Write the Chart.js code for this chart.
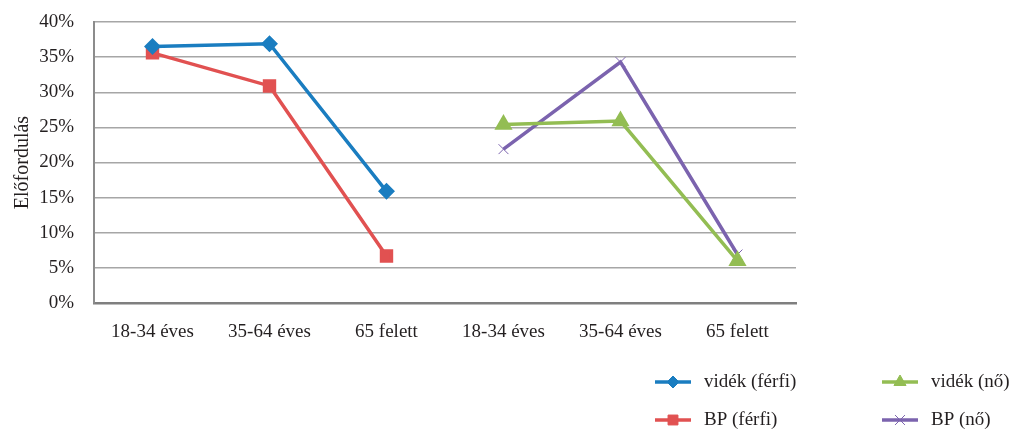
<!DOCTYPE html>
<html>
<head>
<meta charset="utf-8">
<style>
  html, body { margin: 0; padding: 0; background: #fff; }
  #wrap { width: 1019px; height: 430px; position: relative; }
</style>
<script src="https://cdn.jsdelivr.net/npm/chart.js@4"></script>
</head>
<body>
<div id="wrap"><canvas id="c" width="1019" height="430"></canvas></div>
<script>
// Age groups: first three for men, last three for women
const categories = ['18-34 éves', '35-64 éves', '65 felett', '18-34 éves', '35-64 éves', '65 felett'];

// Prevalence in percent
const videkFerfi = [36.5, 36.9, 15.9, null, null, null];
const bpFerfi    = [35.6, 30.9, 6.7, null, null, null];
const videkNo    = [null, null, null, 25.4, 25.9, 6.0];
const bpNo       = [null, null, null, 21.9, 34.3, 6.9];

const yTicks = [0, 5, 10, 15, 20, 25, 30, 35, 40];

const FONT = '"Liberation Serif", "DejaVu Serif", serif';
const TEXT = '#231f20';

// Two-column legend below the plot
const gridLegend = {
  id: 'gridLegend',
  afterDraw(chart) {
    const ctx = chart.ctx;
    const slots = [
      { x: 655, y: 382 }, { x: 882, y: 382 },
      { x: 655, y: 420 }, { x: 882, y: 420 }
    ];
    const order = [0, 2, 1, 3];
    ctx.save();
    order.forEach((di, i) => {
      const ds = chart.data.datasets[di];
      const s = slots[i];
      ctx.strokeStyle = ds.borderColor;
      ctx.lineWidth = 3.5;
      ctx.beginPath();
      ctx.moveTo(s.x, s.y);
      ctx.lineTo(s.x + 36, s.y);
      ctx.stroke();
      ctx.fillStyle = ds.pointBackgroundColor;
      ctx.strokeStyle = ds.pointBorderColor;
      ctx.lineWidth = ds.pointBorderWidth || 1;
      Chart.helpers.drawPoint(ctx, {
        pointStyle: ds.pointStyle,
        radius: ds.pointRadius,
        borderWidth: ds.pointBorderWidth || 1,
        rotation: 0
      }, s.x + 18, s.y);
      ctx.fillStyle = TEXT;
      ctx.font = '19px ' + FONT;
      ctx.textBaseline = 'middle';
      ctx.textAlign = 'left';
      ctx.fillText(ds.label, s.x + 49, s.y);
    });
    ctx.restore();
  }
};

new Chart(document.getElementById('c'), {
  type: 'line',
  data: {
    labels: categories,
    datasets: [
      {
        label: 'vidék (férfi)',
        data: videkFerfi,
        borderColor: '#1a7dc0',
        backgroundColor: '#1a7dc0',
        pointBackgroundColor: '#1a7dc0',
        pointBorderColor: '#1a7dc0',
        pointStyle: 'rectRot',
        pointRadius: 6,
        borderWidth: 3.5
      },
      {
        label: 'BP (férfi)',
        data: bpFerfi,
        borderColor: '#e15151',
        backgroundColor: '#e15151',
        pointBackgroundColor: '#e15151',
        pointBorderColor: '#e15151',
        pointStyle: 'rect',
        pointRadius: 7,
        borderWidth: 3.5
      },
      {
        label: 'vidék (nő)',
        data: videkNo,
        borderColor: '#93bd53',
        backgroundColor: '#93bd53',
        pointBackgroundColor: '#93bd53',
        pointBorderColor: '#93bd53',
        pointStyle: 'triangle',
        pointRadius: 7,
        borderWidth: 3.5
      },
      {
        label: 'BP (nő)',
        data: bpNo,
        borderColor: '#7b63ae',
        backgroundColor: '#7b63ae',
        pointBackgroundColor: '#7b63ae',
        pointBorderColor: '#7b63ae',
        pointStyle: 'crossRot',
        pointRadius: 7,
        pointBorderWidth: 1,
        borderWidth: 3.5
      }
    ]
  },
  options: {
    responsive: false,
    animation: false,
    layout: { padding: { top: 22, right: 223, bottom: 0, left: 0 } },
    plugins: {
      legend: { display: false },
      tooltip: { enabled: false }
    },
    scales: {
      x: {
        offset: true,
        grid: { display: false, drawTicks: false },
        border: { display: true, color: '#7f7f7f', width: 2.5 },
        ticks: { color: TEXT, font: { family: FONT, size: 19 }, padding: 18, maxRotation: 0, autoSkip: false },
        afterFit(s) { s.height = 127; }
      },
      y: {
        min: 0,
        max: 40,
        afterBuildTicks(s) { s.ticks = yTicks.map(v => ({ value: v })); },
        grid: { color: '#a6a6a6', lineWidth: 1.5, drawTicks: true, tickLength: 20, tickColor: 'rgba(0,0,0,0)' },
        border: { display: true, color: '#8c8c8c', width: 2 },
        ticks: {
          color: TEXT,
          font: { family: FONT, size: 19 },
          padding: 0,
          callback: v => v + '%'
        },
        title: {
          display: true,
          text: 'Előfordulás',
          color: TEXT,
          font: { family: FONT, size: 20 },
          padding: { top: 11, bottom: 0 }
        },
        afterFit(s) { s.width = 94; }
      }
    }
  },
  plugins: [gridLegend]
});
</script>
</body>
</html>
